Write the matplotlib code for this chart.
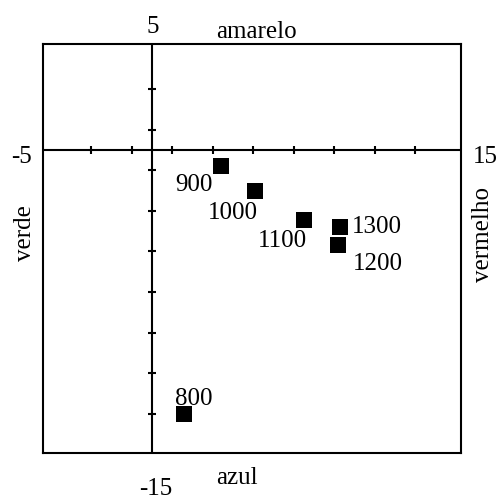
import matplotlib as mpl
import matplotlib.pyplot as plt

mpl.rcParams['font.family'] = ['Liberation Serif', 'DejaVu Serif']

# pontos (x, y) e rótulos
rotulos = ['800', '900', '1000', '1100', '1200', '1300']
xs = [1.6, 3.4, 5.1, 7.5, 9.2, 9.3]
ys = [-13.0, -0.8, -2.0, -3.45, -4.7, -3.8]

# marcas dos eixos (valores ímpares)
xticks = [-3, -1, 1, 3, 5, 7, 9, 11, 13]
yticks = [3, 1, -1, -3, -5, -7, -9, -11, -13]

# deslocamento dos rótulos em pixels (dx, dy, alinhamento)
desloc = [(-9, 9, 'left'), (-8, -25, 'right'), (3, -28, 'right'),
          (3, -27, 'right'), (15, -25, 'left'), (12, -6, 'left')]

W = 499
fig = plt.figure(figsize=(W / 100, W / 100), dpi=100)
ax = fig.add_axes([43 / W, 1 - 453 / W, 418 / W, 409 / W])
ax.set_xlim(-5.38, 15.26)
ax.set_ylim(-14.93, 5.22)
ax.set_xticks([])
ax.set_yticks([])
for s in ax.spines.values():
    s.set_linewidth(1.5)

ax.axhline(0, color='black', lw=1.5)
ax.axvline(0, color='black', lw=1.5)
ax.plot(xticks, [0] * len(xticks), ls='none', marker='|', ms=6, mew=1.5, color='black')
ax.plot([0] * len(yticks), yticks, ls='none', marker='_', ms=6, mew=1.5, color='black')

ax.plot(xs, ys, ls='none', marker='s', ms=11, mew=0, color='black')
for r, x, y, (dx, dy, ha) in zip(rotulos, xs, ys, desloc):
    ax.annotate(r, (x, y), xytext=(dx, dy), textcoords='offset pixels',
                ha=ha, va='baseline', fontsize=18)


def ftxt(px, py, s, **kw):
    fig.text(px / W, 1 - py / W, s, fontsize=18, **kw)


ftxt(153, 33, '5', ha='center', va='baseline')
ftxt(256, 38, 'amarelo', ha='center', va='baseline')
ftxt(156, 495, '-15', ha='center', va='baseline')
ftxt(237, 484, 'azul', ha='center', va='baseline')
ftxt(22, 163, '-5', ha='center', va='baseline')
ftxt(485, 163, '15', ha='center', va='baseline')
ftxt(25, 233, 'verde', ha='center', va='center', rotation=90)
ftxt(483, 235, 'vermelho', ha='center', va='center', rotation=90)

fig.savefig('out.png', dpi=100)
